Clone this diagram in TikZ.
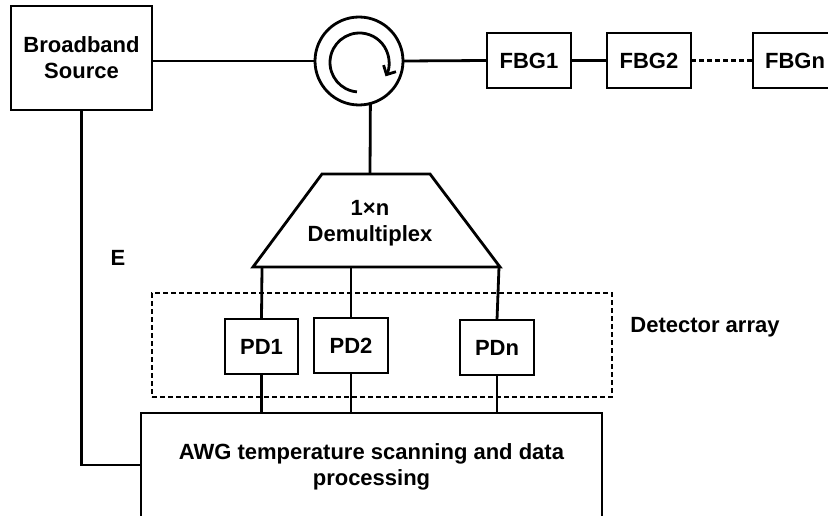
\documentclass[tikz,border=0pt]{standalone}
\usepackage{fontspec}
\setmainfont{Liberation Sans}
\usetikzlibrary{arrows.meta,calc}
\begin{document}
\begin{tikzpicture}[x=1pt,y=-1pt,line width=2.8pt,
  every node/.style={font=\fontsize{22}{26}\selectfont\bfseries,inner sep=0pt,outer sep=0pt},
  box/.style={draw,rectangle,align=center},
  lbl/.style={align=center},
  dotline/.style={dash pattern=on 5pt off 3pt}]
\useasboundingbox (0,0) rectangle (828,516);
\clip (0,0) rectangle (828,516);
% nodes
\node[box,minimum width=141pt,minimum height=104pt] (src) at (81.5,58) {Broadband\\Source};
\node[draw,circle,minimum size=88pt] (circ) at (359,61) {};
\node[box,minimum width=84pt,minimum height=55pt] (fbg1) at (529,60.5) {FBG1};
\node[box,minimum width=84pt,minimum height=55pt] (fbg2) at (649,60.5) {FBG2};
\node[box,minimum width=84pt,minimum height=55pt] (fbgn) at (795,60.5) {FBGn};
% demultiplexer
\coordinate (tl) at (322,174);
\coordinate (tr) at (430,174);
\coordinate (br) at (500,267);
\coordinate (bl) at (253,267);
\draw[line join=miter] (tl) -- (tr) -- (br) -- (bl) -- cycle;
\node[lbl] (demux) at (370,223) {1×n\\Demultiplex};
\coordinate (dtop) at (370,174);
\coordinate (d1) at (262,267);
\coordinate (d2) at (351,267);
\coordinate (d3) at (499,267);
% detectors
\node[box,minimum width=73pt,minimum height=55pt] (pd1) at (261.5,346.5) {PD1};
\node[box,minimum width=74pt,minimum height=55pt] (pd2) at (351,345.5) {PD2};
\node[box,minimum width=74pt,minimum height=55pt] (pdn) at (497,347.5) {PDn};
\node[draw,dotline,line width=2.4pt,minimum width=460pt,minimum height=104pt] (det) at (382,345) {};
\node[lbl] (detlbl) at (705,327) {Detector array};
% processing
\node[box,minimum width=461pt,minimum height=108pt] (awg) at (371.5,467) {AWG temperature scanning and data\\processing};
\node[lbl] (e) at (118,258) {E};
% connectors
\draw (src.east |- circ.west) -- (circ.west);
\draw (circ.east) -- (fbg1.west);
\draw (fbg1.east) -- (fbg2.west);
\draw[dotline] (fbg2.east) -- (fbgn.west);
\draw (circ.-75) -- (dtop);
\draw (d1) -- (pd1.north);
\draw (d2) -- (pd2.north);
\draw (d3) -- (pdn.north);
\draw (pd1.south) -- (pd1.south |- awg.north);
\draw (pd2.south) -- (pd2.south |- awg.north);
\draw (pdn.south) -- (pdn.south |- awg.north);
\draw (src.south) |- ([yshift=2pt]awg.west);
% circulator arrow
\draw[-{Straight Barb[length=7pt,width=14pt]}] ($(359.5,62.5)+(95:29.5)$) arc[start angle=95,end angle=388,radius=29.5];
\end{tikzpicture}
\end{document}
